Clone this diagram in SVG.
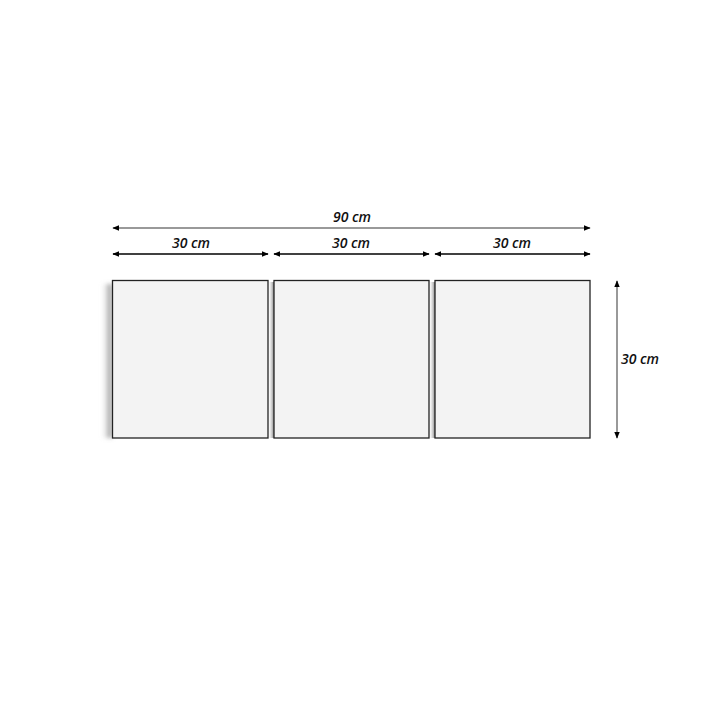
<svg xmlns="http://www.w3.org/2000/svg" width="720" height="720" viewBox="0 0 720 720">
<defs>
<marker id="ah" viewBox="0 0 10 10" refX="9" refY="5" markerWidth="7" markerHeight="7" markerUnits="userSpaceOnUse" orient="auto-start-reverse">
<path d="M0,1 L10,5 L0,9 Z" fill="#000"/>
</marker>
<linearGradient id="sh" x1="1" y1="0" x2="0" y2="0">
<stop offset="0" stop-color="#777" stop-opacity="0.9"/>
<stop offset="1" stop-color="#ccc" stop-opacity="0"/>
</linearGradient>
<filter id="blur" x="-50%" y="-10%" width="200%" height="120%"><feGaussianBlur stdDeviation="2"/></filter>
</defs>
<style>
.panel{fill:#f3f3f3;stroke:#222;stroke-width:1.3}
.dim{stroke:#000;stroke-width:1.3;fill:none;marker-start:url(#ah);marker-end:url(#ah)}
.dimg{stroke:#777;stroke-width:1.5;fill:none;marker-start:url(#ah);marker-end:url(#ah)}
.lbl{font-family:"Open Sans","DejaVu Sans",sans-serif;font-weight:600;font-style:italic;font-size:14px;fill:#111;text-anchor:middle}
</style>
<rect width="720" height="720" fill="#fff"/>
<g id="panel1">
<rect x="102" y="284" width="10" height="154" fill="url(#sh)" filter="url(#blur)"/>
<rect class="panel" x="112.5" y="280.5" width="155.5" height="157.5"/>
</g>
<g id="panel2">
<rect x="268.5" y="282" width="5.5" height="156" fill="url(#sh)"/>
<rect class="panel" x="274" y="280.5" width="155" height="157.5"/>
</g>
<g id="panel3">
<rect x="429.5" y="282" width="5.5" height="156" fill="url(#sh)"/>
<rect class="panel" x="435" y="280.5" width="155" height="157.5"/>
</g>
<g id="connectors">
<line class="dimg" x1="113" y1="228" x2="590" y2="228"/>
<line class="dim" x1="113" y1="254" x2="268" y2="254"/>
<line class="dim" x1="274" y1="254" x2="429" y2="254"/>
<line class="dim" x1="435" y1="254" x2="590" y2="254"/>
<line class="dimg" x1="617" y1="281" x2="617" y2="438"/>
</g>
<g id="labels">
<text class="lbl" x="352" y="222">90 cm</text>
<text class="lbl" x="191" y="248">30 cm</text>
<text class="lbl" x="351" y="248">30 cm</text>
<text class="lbl" x="512" y="248">30 cm</text>
<text class="lbl" x="640" y="364">30 cm</text>
</g>
</svg>
